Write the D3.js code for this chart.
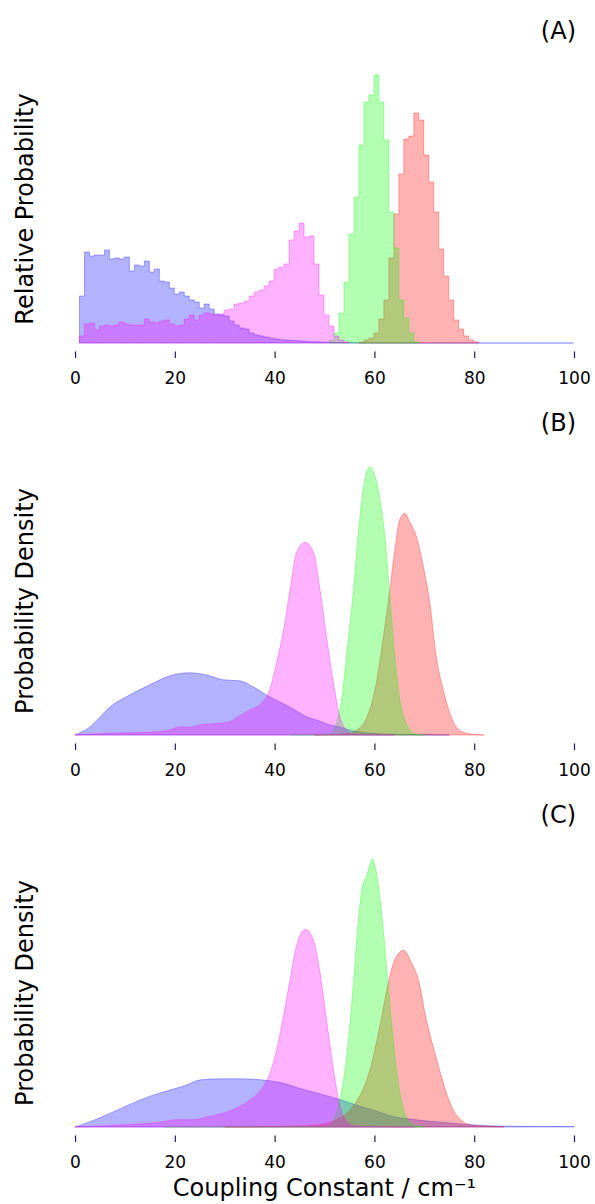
<!DOCTYPE html>
<html lang="en">
<head>
<meta charset="utf-8">
<title>Coupling constant distributions</title>
<script src="https://d3js.org/d3.v7.min.js"></script>
<style>
  body { margin: 0; background: #fff; }
  text { font-family: "DejaVu Sans", sans-serif; }
</style>
</head>
<body>
<script>
// ---- data ----
var xTicks = [0, 20, 40, 60, 80, 100];
var panelLabels = ["(A)", "(B)", "(C)"];
var yTitles = ["Relative Probability", "Probability Density", "Probability Density"];
var xTitle = "Coupling Constant / cm\u207B\u00B9";

// histograms (panel A), bin width 1, first bin left edge given by *Start
var binWidth = 1;
var blueStart = 0.9;
var blueHist = [47, 91, 87, 88, 88, 93, 84, 85, 84, 86, 72, 78, 77, 82, 71, 74, 62, 61, 55, 49,
  51, 47, 43, 41, 35, 39, 34, 29, 28, 27, 22, 18, 15, 14, 10, 8, 7, 6, 5, 4,
  3.3, 3, 2.7, 2.3, 2, 1.7, 1.3, 1.2, 1, 0.8, 0.7, 0.5, 0.4, 0.3, 0.2, 0.2, 0.1, 0.1, 0.1, 0,
  0, 0, 0, 0, 0, 0, 0, 0, 0, 0, 0, 0, 0, 0, 0, 0, 0, 0, 0, 0,
  0, 0, 0, 0, 0, 0, 0, 0, 0, 0, 0, 0, 0, 0, 0, 0, 0, 0, 0];
var magentaStart = 0.9;
var magentaHist = [7, 19, 20, 13, 17, 18, 17, 18, 21, 19, 18, 18, 18, 24, 21, 20, 22, 23, 19, 17,
  18, 24, 28, 23, 28, 30, 29, 28, 29, 33, 34, 39, 40, 42, 47, 51, 53, 57, 62, 74,
  76, 79, 103, 112, 120, 106, 107, 79, 48, 28, 17, 7, 3, 1];
var greenStart = 50.9;
var greenHist = [3, 10, 30, 61, 109, 146, 198, 241, 248, 268, 241, 203, 131, 95, 43, 25, 10, 1];
var redStart = 56.9;
var redHist = [1, 3, 5, 10, 24, 43, 85, 129, 169, 204, 207, 230, 223, 188, 161, 131, 94, 67, 43, 23, 14, 7, 3, 1];

// density curves, panel B  [x, density]
var blueB = [[0, 0], [3, 8], [7, 28], [11, 40], [15, 50], [19, 59], [23, 62], [27, 59], [29.7, 55],
  [33, 54], [35.7, 48], [39, 38], [43, 28], [47, 17], [49, 14], [51, 10], [53, 8], [55, 5], [57, 3],
  [62, 1], [68, 0.4], [75, 0]];
var magentaB = [[0, 0], [7, 1.7], [15, 2.7], [19, 5], [21, 8.3], [23, 7.7], [25, 10], [29, 11.7],
  [31, 13.3], [33, 19], [35, 25], [37, 30], [39, 45], [40.4, 72], [41.8, 105], [43.1, 145],
  [44.4, 182], [46.1, 192], [47.8, 182], [49.1, 145], [50.4, 98], [51.8, 52], [53.1, 18],
  [54.4, 5], [55.8, 1], [58, 0.3], [64, 0]];
var greenB = [[43, 0], [49, 0.3], [51.1, 1], [52.4, 12], [53.4, 35], [54.4, 78], [55.8, 145],
  [57.1, 218], [58.1, 255], [59.1, 267], [60.1, 258], [61.1, 235], [62.1, 198], [63.1, 138],
  [64.1, 78], [65.1, 35], [66.1, 15], [67.1, 5], [68.1, 1], [70, 0]];
var redB = [[48, 0], [54.4, 1], [56.5, 5], [58.5, 18], [60.1, 45], [61.8, 98], [63.1, 145],
  [64.1, 185], [65.1, 215], [66.1, 221], [67.1, 212], [68.4, 198], [69.8, 168], [71.1, 132],
  [72.4, 78], [73.8, 45], [75.1, 22], [76.4, 8], [78.4, 1.7], [80, 0.5], [82, 0]];

// density curves, panel C
var blueC = [[0, 0], [3.9, 7], [7.2, 14], [11.2, 23], [15.2, 31], [19.2, 37], [21.9, 41], [25.2, 47],
  [29.3, 48], [33.3, 48], [37.3, 47], [41.3, 44], [45.3, 38], [49.1, 33], [53.1, 27.3], [57.1, 20.7],
  [61.1, 14.7], [63.1, 11.3], [67.1, 8], [71.1, 5.7], [75.1, 4], [79.1, 2.3], [83.1, 1.3],
  [89.2, 0.7], [100, 0.4]];
var magentaC = [[0, 0], [10.3, 2.3], [17, 4.7], [20.4, 7.3], [23.7, 7.3], [27.1, 10.7], [30.4, 14.7],
  [33.1, 20.7], [35.1, 27], [37.1, 36], [39.1, 54], [40.4, 77], [41.8, 111], [43.1, 147],
  [44.4, 181], [46.2, 197], [47.8, 186], [49.1, 154], [50.4, 107], [51.8, 57], [53.1, 21],
  [54.4, 5.7], [55.8, 1.3], [58, 0.4], [68, 0]];
var greenC = [[18, 0], [40, 0.3], [48, 0.4], [50.4, 0.7], [51.8, 7.3], [52.8, 21], [53.8, 47],
  [54.8, 87], [55.8, 144], [56.8, 207], [57.5, 237], [58.5, 251], [59.6, 267], [60.5, 251],
  [61.5, 211], [62.5, 157], [63.5, 101], [64.5, 54], [65.5, 24], [66.5, 9], [67.8, 2.3], [70, 0]];
var redC = [[30, 0], [45, 1], [49.1, 2.3], [52.4, 7.3], [55.8, 21], [59.1, 57], [61.1, 101],
  [62.8, 144], [64.1, 167], [65.9, 176], [67.4, 164], [68.8, 147], [70.4, 107], [72.1, 74],
  [73.8, 44], [75.4, 21], [77.1, 8], [79.1, 2.3], [82.4, 0.7], [86, 0]];

var colors = {blue: "#0000ff", magenta: "#ff00ff", green: "#00ff00", red: "#ff0000"};

// ---- layout ----
var width = 595, height = 1204;
var x0 = 75, x1 = 574;
var panelBase = [343, 735, 1127];
var plotH = 268;

var svg = d3.select("body").append("svg")
  .attr("width", width)
  .attr("height", height);

var x = d3.scaleLinear().domain([0, 100]).range([x0, x1]);

function histToSteps(start, vals) {
  var pts = [[start, 0]];
  vals.forEach(function (v, i) {
    pts.push([start + i * binWidth, v]);
    pts.push([start + (i + 1) * binWidth, v]);
  });
  pts.push([start + vals.length * binWidth, 0]);
  return pts;
}

var panels = [
  [
    {c: "blue", pts: histToSteps(blueStart, blueHist)},
    {c: "red", pts: histToSteps(redStart, redHist)},
    {c: "green", pts: histToSteps(greenStart, greenHist)},
    {c: "magenta", pts: histToSteps(magentaStart, magentaHist)}
  ],
  [
    {c: "blue", pts: blueB, smooth: true},
    {c: "red", pts: redB, smooth: true},
    {c: "green", pts: greenB, smooth: true},
    {c: "magenta", pts: magentaB, smooth: true}
  ],
  [
    {c: "blue", pts: blueC, smooth: true},
    {c: "red", pts: redC, smooth: true},
    {c: "green", pts: greenC, smooth: true},
    {c: "magenta", pts: magentaC, smooth: true}
  ]
];

panels.forEach(function (series, p) {
  var base = panelBase[p];
  var ymax = d3.max(series, function (s) { return d3.max(s.pts, function (d) { return d[1]; }); });
  var y = d3.scaleLinear().domain([0, ymax]).range([base, base - plotH]);

  var g = svg.append("g");

  series.forEach(function (s) {
    var area = d3.area()
      .x(function (d) { return x(d[0]); })
      .y0(base)
      .y1(function (d) { return y(d[1]); });
    if (s.smooth) area.curve(d3.curveMonotoneX);
    g.append("path")
      .datum(s.pts)
      .attr("d", area)
      .attr("fill", colors[s.c])
      .attr("fill-opacity", 0.3)
      .attr("stroke", colors[s.c])
      .attr("stroke-opacity", 0.3)
      .attr("stroke-width", 1);
  });

  // x axis: ticks only, no spine
  var ax = svg.append("g")
    .attr("transform", "translate(0," + (base + 8.5) + ")")
    .call(d3.axisBottom(x).tickValues(xTicks).tickSize(6.5).tickPadding(13.5).tickFormat(d3.format("d")));
  ax.select(".domain").remove();
  ax.selectAll(".tick line").attr("stroke", "#1c1c50").attr("stroke-width", 1.2);
  ax.selectAll(".tick text")
    .attr("fill", "#000")
    .style("font-size", "17px")
    .style("font-family", "DejaVu Sans, sans-serif");

  // panel letter
  svg.append("text")
    .attr("x", x1 + 2)
    .attr("y", base - 304)
    .attr("text-anchor", "end")
    .style("font-size", "24px")
    .text(panelLabels[p]);

  // y title
  svg.append("text")
    .attr("transform", "translate(33," + (base - plotH / 2) + ") rotate(-90)")
    .attr("text-anchor", "middle")
    .style("font-size", "24px")
    .text(yTitles[p]);
});

// x title
svg.append("text")
  .attr("x", (x0 + x1) / 2)
  .attr("y", 1196)
  .attr("text-anchor", "middle")
  .style("font-size", "24px")
  .text(xTitle);
</script>
</body>
</html>
